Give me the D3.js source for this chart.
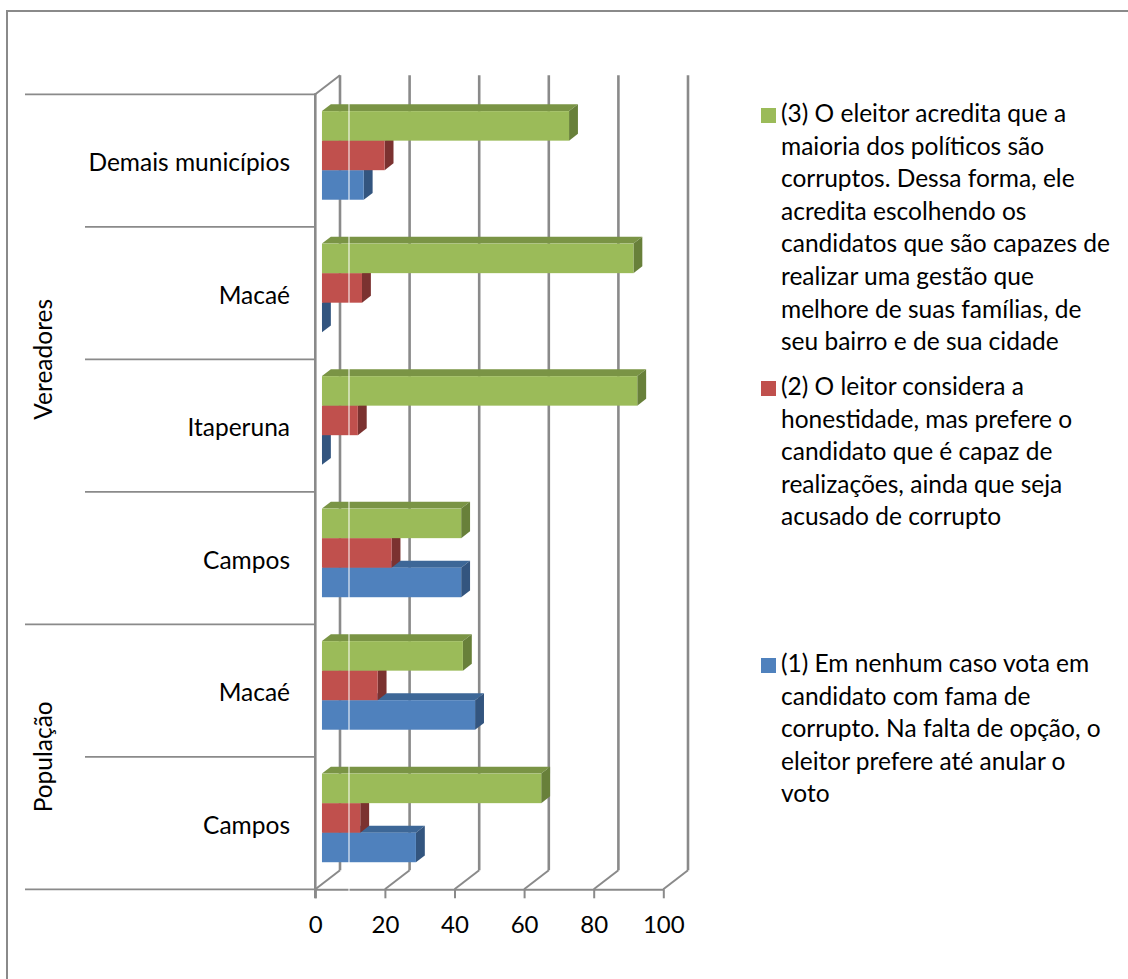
<!DOCTYPE html>
<html>
<head>
<meta charset="utf-8">
<script src="https://cdn.jsdelivr.net/npm/d3@7"></script>
<style>
  html, body { margin: 0; padding: 0; background: #fff; }
  svg { display: block; }
  text { font-family: Lato, "Open Sans", sans-serif; fill: #000; }
</style>
</head>
<body>
<svg id="chart" width="1128" height="979"></svg>
<script>
// Categories, top to bottom
const categories = ["Demais municípios", "Macaé", "Itaperuna", "Campos", "Macaé", "Campos"];
// Outer grouping of the categories (how many categories each group spans)
const groupNames = ["Vereadores", "População"];
const groupSizes = [4, 2];

// Series values (%)
const serie1 = [12, 0, 0, 40, 44, 27];          // (1) blue
const serie2 = [18, 11.5, 10.3, 20, 16, 11];    // (2) red
const serie3 = [71, 89.5, 90.6, 40, 40.5, 63];  // (3) green

const tickValues = [0, 20, 40, 60, 80, 100];

const legendLines3 = [
  "(3) O eleitor acredita que a",
  "maioria dos políticos são",
  "corruptos. Dessa forma, ele",
  "acredita escolhendo os",
  "candidatos que são capazes de",
  "realizar uma gestão que",
  "melhore de suas famílias, de",
  "seu bairro e de sua cidade"
];
const legendLines2 = [
  "(2) O leitor considera a",
  "honestidade, mas prefere o",
  "candidato que é capaz de",
  "realizações, ainda que seja",
  "acusado de corrupto"
];
const legendLines1 = [
  "(1) Em nenhum caso vota em",
  "candidato com fama de",
  "corrupto. Na falta de opção, o",
  "eleitor prefere até anular o",
  "voto"
];

// ---- layout ----
const svg = d3.select("#chart");
const FONT = 24.5;
const gridColor = "#8a8a8a";

const plotTop = 94.3, plotBottom = 889.3;
const x = d3.scaleLinear().domain([0, 100]).range([315.3, 663.3]);
// oblique depth vector of the 3D box (front -> back wall)
const DX = 24.7, DY = -19;
const barDepthStart = 0.27, barDepth = 0.36;

const idx = d3.range(categories.length);
const y = d3.scaleBand().domain(idx).range([plotTop, plotBottom]).padding(0);
const seriesKeys = ["s3", "s2", "s1"]; // top to bottom inside a cluster
const yInner = d3.scaleBand().domain(seriesKeys).range([0, y.bandwidth()])
  .paddingInner(0).paddingOuter(0.743);

const series = [
  { key: "s1", values: serie1, front: "#4f81bd", top: "#3d6797", side: "#33557f", legend: legendLines1 },
  { key: "s2", values: serie2, front: "#c0504d", top: "#9a3d3b", side: "#7b3230", legend: legendLines2 },
  { key: "s3", values: serie3, front: "#9bbb59", top: "#7a9445", side: "#68803a", legend: legendLines3 }
];

const pt = (v, yy, d) => [x(v) + d * DX, yy + d * DY];

// outer frame
svg.append("rect").attr("x", 7).attr("y", 11).attr("width", 1140).attr("height", 1000)
  .attr("fill", "none").attr("stroke", gridColor).attr("stroke-width", 2);

// back wall gridlines
const g = svg.append("g");
tickValues.forEach(v => {
  const b = pt(v, plotBottom, 1), t = pt(v, plotTop, 1);
  g.append("line").attr("x1", b[0]).attr("y1", b[1]).attr("x2", t[0]).attr("y2", t[1])
    .attr("stroke", gridColor).attr("stroke-width", 2.6);
  // floor depth edges
  const f = pt(v, plotBottom, 0);
  g.append("line").attr("x1", f[0]).attr("y1", f[1]).attr("x2", b[0]).attr("y2", b[1])
    .attr("stroke", gridColor).attr("stroke-width", 2);
});
// top-left depth edge of the side wall
{
  const f = pt(0, plotTop, 0), b = pt(0, plotTop, 1);
  g.append("line").attr("x1", f[0]).attr("y1", f[1]).attr("x2", b[0]).attr("y2", b[1])
    .attr("stroke", gridColor).attr("stroke-width", 2);
}

// front value axis on the floor
const xAxis = d3.axisBottom(x).tickValues(tickValues).tickSize(9).tickSizeOuter(0).tickPadding(17);
const ax = svg.append("g").attr("transform", `translate(0,${plotBottom})`).call(xAxis);
ax.select(".domain").attr("stroke", gridColor).attr("stroke-width", 2);
ax.selectAll(".tick line").attr("stroke", gridColor).attr("stroke-width", 2);
ax.selectAll(".tick text").attr("font-family", "Lato, sans-serif").attr("font-size", 24)
  .attr("fill", "#000").attr("dy", "0.72em");

// side wall front edge (category axis line)
svg.append("line").attr("x1", x(0)).attr("y1", plotTop - 1).attr("x2", x(0)).attr("y2", plotBottom + 9)
  .attr("stroke", gridColor).attr("stroke-width", 2.6);

// category separators; group boundaries run further left
const groupBounds = [0];
groupSizes.forEach((s, i) => groupBounds.push(groupBounds[i] + s));
const bounds = d3.range(categories.length + 1);
bounds.forEach(k => {
  const yy = k < categories.length ? y(k) : plotBottom;
  const left = groupBounds.includes(k) ? 25 : 85;
  svg.append("line").attr("x1", left).attr("y1", yy).attr("x2", x(0)).attr("y2", yy)
    .attr("stroke", gridColor).attr("stroke-width", 1.8);
});

// category labels
svg.append("g").selectAll("text").data(idx).join("text")
  .attr("x", 290).attr("y", i => y(i) + y.bandwidth() / 2 + 10.5)
  .attr("text-anchor", "end").attr("font-size", FONT)
  .text(i => categories[i]);

// group labels (rotated)
groupNames.forEach((name, i) => {
  const y0 = y(groupBounds[i]);
  const y1 = groupBounds[i + 1] < categories.length ? y(groupBounds[i + 1]) : plotBottom;
  const cy = (y0 + y1) / 2;
  svg.append("text").attr("transform", `translate(52,${cy}) rotate(-90)`)
    .attr("text-anchor", "middle").attr("font-size", FONT).text(name);
});

// 3D bars: draw lower series first so upper bars overlap their top faces
const bars = svg.append("g");
idx.forEach(i => {
  series.forEach(s => {
    const v = s.values[i];
    const yt = y(i) + yInner(s.key);
    const yb = yt + yInner.bandwidth();
    const d0 = barDepthStart, d1 = barDepthStart + barDepth;
    const fa = pt(0, yt, d0), fb = pt(v, yt, d0), fc = pt(v, yb, d0), fd = pt(0, yb, d0);
    const ba = pt(0, yt, d1), bb = pt(v, yt, d1), bc = pt(v, yb, d1);
    const cell = bars.append("g");
    // top face
    cell.append("polygon").attr("points", [fa, fb, bb, ba].map(p => p.join(",")).join(" "))
      .attr("fill", s.top);
    // end face
    cell.append("polygon").attr("points", [fb, fc, bc, bb].map(p => p.join(",")).join(" "))
      .attr("fill", s.side);
    // front face
    cell.append("rect").attr("x", fa[0]).attr("y", fa[1])
      .attr("width", fb[0] - fa[0]).attr("height", fd[1] - fa[1]).attr("fill", s.front);
  });
});

// thin light seam across the plot
svg.append("line").attr("x1", 349).attr("y1", 60).attr("x2", 349).attr("y2", 895)
  .attr("stroke", "#ffffff").attr("stroke-width", 1.2).attr("stroke-opacity", 0.85);

// legend
const legendX = 761, textX = 781, lineH = 32.6;
const legendStarts = { s3: 122, s2: 395, s1: 672 };
const leg = svg.append("g");
["s3", "s2", "s1"].forEach(k => {
  const s = series.find(d => d.key === k);
  const base = legendStarts[k];
  leg.append("rect").attr("x", legendX).attr("y", base - 14).attr("width", 15).attr("height", 15)
    .attr("fill", s.front);
  const t = leg.append("text").attr("font-size", FONT);
  s.legend.forEach((line, j) => {
    t.append("tspan").attr("x", textX).attr("y", base + j * lineH).text(line);
  });
});
</script>
</body>
</html>
